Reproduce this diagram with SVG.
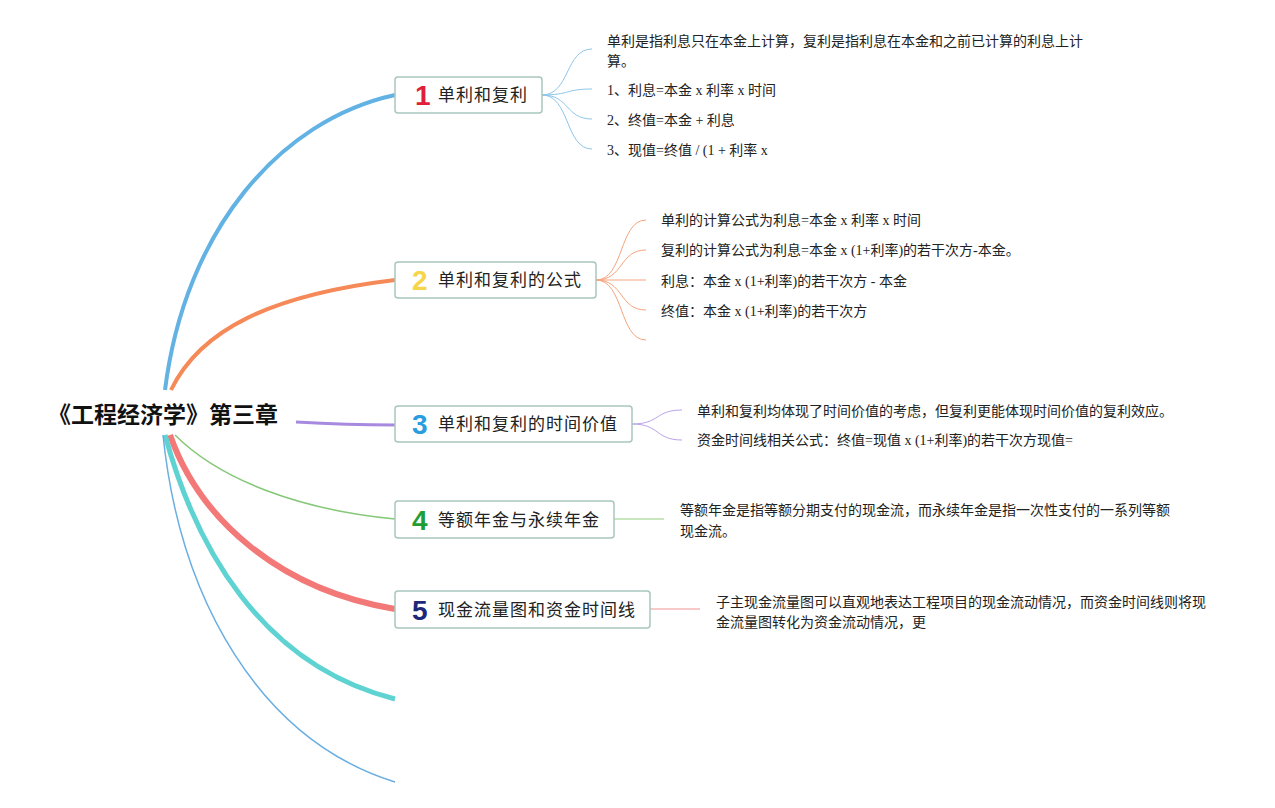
<svg xmlns="http://www.w3.org/2000/svg" width="1275" height="808" viewBox="0 0 1275 808">
<style>
.bg{fill:#ffffff}
.box{fill:#ffffff;stroke:#a9c6be;stroke-width:1.5}
.lbl{font-family:"Noto Sans CJK SC","Noto Sans",sans-serif;font-size:17px;letter-spacing:1px;fill:#222}
.num{font-family:"Liberation Sans","DejaVu Sans",sans-serif;font-size:28px;font-weight:bold}
.txt{font-family:"Liberation Serif","Noto Sans CJK SC",serif;font-size:14px;fill:#222}
.title{font-family:"Noto Sans CJK SC",sans-serif;font-size:23px;font-weight:bold;fill:#111}
.c{fill:none;stroke-linecap:butt}
</style>
<rect class="bg" x="0" y="0" width="1275" height="808"/>
<g id="connectors">
  <path class="c" d="M165,390 C185,230 280,120 395,95" stroke="#63b2e4" stroke-width="4"/>
  <path class="c" d="M171,390 C200,330 270,295 395,280" stroke="#f58a58" stroke-width="4"/>
  <path class="c" d="M296,422 C330,424 360,425 395,425" stroke="#a889e0" stroke-width="3"/>
  <path class="c" d="M175,435 C220,480 300,510 395,519" stroke="#86c878" stroke-width="1.5"/>
  <path class="c" d="M170,435 C200,520 280,590 395,609" stroke="#f37878" stroke-width="6"/>
  <path class="c" d="M165,435 C195,545 260,665 395,699" stroke="#5fd2d2" stroke-width="5"/>
  <path class="c" d="M163,435 C180,600 260,740 395,782" stroke="#6aaee2" stroke-width="1.5"/>
  <g stroke="#8ec6ea" stroke-width="1" fill="none">
    <path d="M542,95 C570,95 565,49 592,49"/>
    <path d="M542,95 C570,95 565,89 592,89"/>
    <path d="M542,95 C570,95 565,119 592,119"/>
    <path d="M542,95 C570,95 565,149 592,149"/>
  </g>
  <g stroke="#f5a47e" stroke-width="1" fill="none">
    <path d="M596,280 C624,280 619,220 646,220"/>
    <path d="M596,280 C624,280 619,250 646,250"/>
    <path d="M596,280 L646,280"/>
    <path d="M596,280 C624,280 619,310 646,310"/>
    <path d="M596,280 C624,280 619,340 646,340"/>
  </g>
  <g stroke="#b9a3e6" stroke-width="1" fill="none">
    <path d="M632,424 C660,424 655,410 682,410"/>
    <path d="M632,424 C660,424 655,440 682,440"/>
  </g>
  <path d="M614,519 L664,519" stroke="#b6dfaa" stroke-width="1.5" fill="none"/>
  <path d="M650,609 L700,609" stroke="#f4b7b7" stroke-width="1.5" fill="none"/>
</g>
<g id="root">
  <text class="title" x="48" y="423">《工程经济学》第三章</text>
</g>
<g id="node1">
  <rect class="box" x="395" y="77" width="147" height="36" rx="3"/>
  <text class="num" x="415" y="105" fill="#e0203a">1</text>
  <text class="lbl" x="438" y="101">单利和复利</text>
</g>
<g id="node1-details">
  <text class="txt" x="607" y="46">单利是指利息只在本金上计算，复利是指利息在本金和之前已计算的利息上计</text>
  <text class="txt" x="607" y="66">算。</text>
  <text class="txt" x="607" y="95">1、利息=本金 x 利率 x 时间</text>
  <text class="txt" x="607" y="125">2、终值=本金 + 利息</text>
  <text class="txt" x="607" y="155">3、现值=终值 / (1 + 利率 x</text>
</g>
<g id="node2">
  <rect class="box" x="395" y="262" width="201" height="36" rx="3"/>
  <text class="num" x="412" y="290" fill="#f6d54a">2</text>
  <text class="lbl" x="438" y="286">单利和复利的公式</text>
</g>
<g id="node2-details">
  <text class="txt" x="661" y="225">单利的计算公式为利息=本金 x 利率 x 时间</text>
  <text class="txt" x="661" y="255">复利的计算公式为利息=本金 x (1+利率)的若干次方-本金。</text>
  <text class="txt" x="661" y="286">利息：本金 x (1+利率)的若干次方 - 本金</text>
  <text class="txt" x="661" y="316">终值：本金 x (1+利率)的若干次方</text>
</g>
<g id="node3">
  <rect class="box" x="395" y="406" width="237" height="36" rx="3"/>
  <text class="num" x="412" y="434" fill="#2a9ddf">3</text>
  <text class="lbl" x="438" y="430">单利和复利的时间价值</text>
</g>
<g id="node3-details">
  <text class="txt" x="697" y="416">单利和复利均体现了时间价值的考虑，但复利更能体现时间价值的复利效应。</text>
  <text class="txt" x="697" y="445">资金时间线相关公式：终值=现值 x (1+利率)的若干次方现值=</text>
</g>
<g id="node4">
  <rect class="box" x="395" y="501" width="219" height="37" rx="3"/>
  <text class="num" x="412" y="530" fill="#1f9e35">4</text>
  <text class="lbl" x="438" y="526">等额年金与永续年金</text>
</g>
<g id="node4-details">
  <text class="txt" x="680" y="515">等额年金是指等额分期支付的现金流，而永续年金是指一次性支付的一系列等额</text>
  <text class="txt" x="680" y="536">现金流。</text>
</g>
<g id="node5">
  <rect class="box" x="395" y="591" width="255" height="37" rx="3"/>
  <text class="num" x="412" y="620" fill="#1d2878">5</text>
  <text class="lbl" x="438" y="616">现金流量图和资金时间线</text>
</g>
<g id="node5-details">
  <text class="txt" x="716" y="607">子主现金流量图可以直观地表达工程项目的现金流动情况，而资金时间线则将现</text>
  <text class="txt" x="716" y="627">金流量图转化为资金流动情况，更</text>
</g>
</svg>
